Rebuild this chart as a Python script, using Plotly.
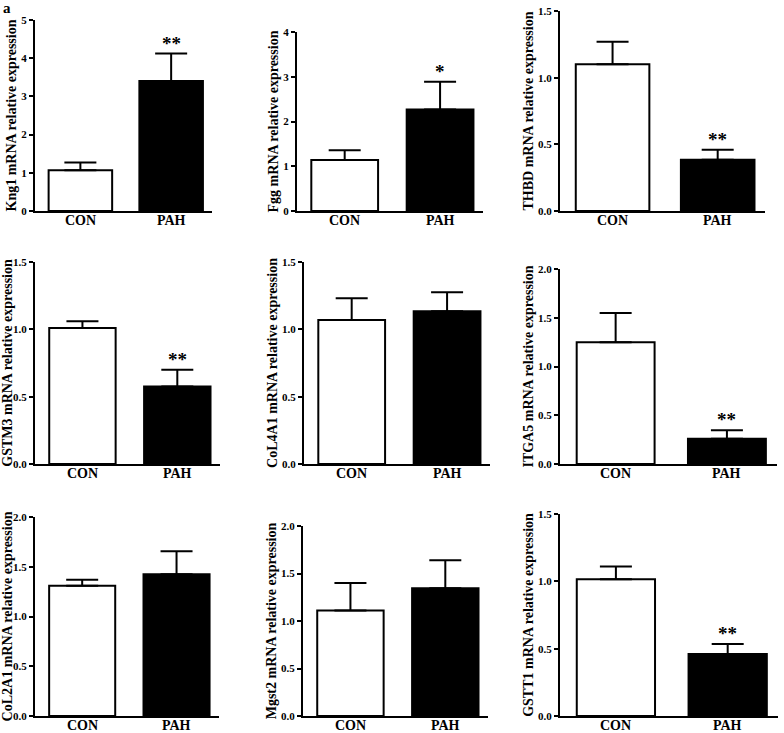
import plotly.graph_objects as go

groups = ["CON", "PAH"]
genes = ["Kng1", "Fgg", "THBD", "GSTM3", "CoL4A1", "ITGA5", "CoL2A1", "Mgst2", "GSTT1"]
means_con = [1.07, 1.14, 1.10, 1.01, 1.07, 1.25, 1.31, 1.11, 1.015]
means_pah = [3.40, 2.27, 0.385, 0.575, 1.135, 0.26, 1.425, 1.345, 0.46]
err_con = [0.20, 0.22, 0.17, 0.05, 0.16, 0.30, 0.06, 0.29, 0.095]
err_pah = [0.72, 0.62, 0.075, 0.125, 0.14, 0.085, 0.23, 0.295, 0.075]
stars_pah = ["**", "*", "**", "**", "", "**", "", "", "**"]
y_max = [5, 4, 1.5, 1.5, 1.5, 2.0, 2.0, 2.0, 1.5]
y_dtick = [1, 1, 0.5, 0.5, 0.5, 0.5, 0.5, 0.5, 0.5]
y_fmt = ["d", "d", ".1f", ".1f", ".1f", ".1f", ".1f", ".1f", ".1f"]

W, H = 784, 733
# panel boxes in pixels: x0, x1, ytop, ybottom
boxes = [
    (35, 212, 20, 211), (297, 483, 32, 211), (560, 765, 11, 211),
    (35, 220, 262, 464), (304, 490, 262, 464), (560, 777, 269, 464),
    (35, 219, 517, 716), (303, 488, 526, 716), (560, 778, 514, 716),
]

FONT = "Liberation Serif, Times New Roman, serif"
fig = go.Figure()
layout = {}
annotations = []
for i, g in enumerate(genes):
    k = "" if i == 0 else str(i + 1)
    xa, ya = "x" + k, "y" + k
    x0, x1, yt, yb = boxes[i]
    fig.add_trace(go.Bar(
        x=[0, 1], y=[means_con[i], means_pah[i]],
        xaxis=xa, yaxis=ya, width=0.7,
        marker=dict(color=["white", "black"], line=dict(color="black", width=2)),
        error_y=dict(type="data", symmetric=False,
                     array=[err_con[i], err_pah[i]], arrayminus=[0, 0],
                     color="black", thickness=2, width=16),
        showlegend=False, hoverinfo="skip",
    ))
    layout["xaxis" + k] = dict(
        domain=[x0 / W, x1 / W], anchor=ya, range=[-0.5, 1.45],
        showticklabels=False, ticks="",
        showline=True, linecolor="black", linewidth=2,
        showgrid=False, zeroline=False, automargin=False,
    )
    layout["yaxis" + k] = dict(
        domain=[1 - yb / H, 1 - yt / H], anchor=xa, range=[0, y_max[i]],
        dtick=y_dtick[i], tickformat=y_fmt[i],
        showline=True, linecolor="black", linewidth=2,
        ticks="outside", ticklen=4, tickwidth=2, tickcolor="black",
        showgrid=False, zeroline=False, automargin=False,
        tickfont=dict(family=FONT, size=11, color="black", weight="bold"),
        title=dict(text=g + " mRNA relative expression", standoff=1,
                   font=dict(family=FONT, size=14, color="black", weight="bold")),
    )
    # group labels under each bar
    for j, grp in enumerate(groups):
        annotations.append(dict(
            x=j, y=0, xref=xa, yref=ya + " domain", text=grp, showarrow=False,
            yanchor="top", yshift=-1, borderpad=0,
            font=dict(family=FONT, size=14, color="black", weight="bold"),
        ))
    if stars_pah[i]:
        annotations.append(dict(
            x=1, y=means_pah[i] + err_pah[i], xref=xa, yref=ya,
            text=stars_pah[i], showarrow=False, yanchor="bottom", yshift=-2,
            font=dict(family=FONT, size=19, color="black", weight="bold"),
        ))

annotations.append(dict(
    x=0.002, y=1.0, xref="paper", yref="paper", text="a", showarrow=False,
    xanchor="left", yanchor="top", yshift=1, borderpad=0,
    font=dict(family=FONT, size=15, color="black", weight="bold"),
))

fig.update_layout(
    width=W, height=H, margin=dict(l=0, r=0, t=0, b=0, autoexpand=False),
    paper_bgcolor="white", plot_bgcolor="white",
    annotations=annotations, **layout,
)
fig.write_html("out.html", config={"displayModeBar": False},
               post_script="document.body.style.margin='0';document.body.style.padding='0';")
